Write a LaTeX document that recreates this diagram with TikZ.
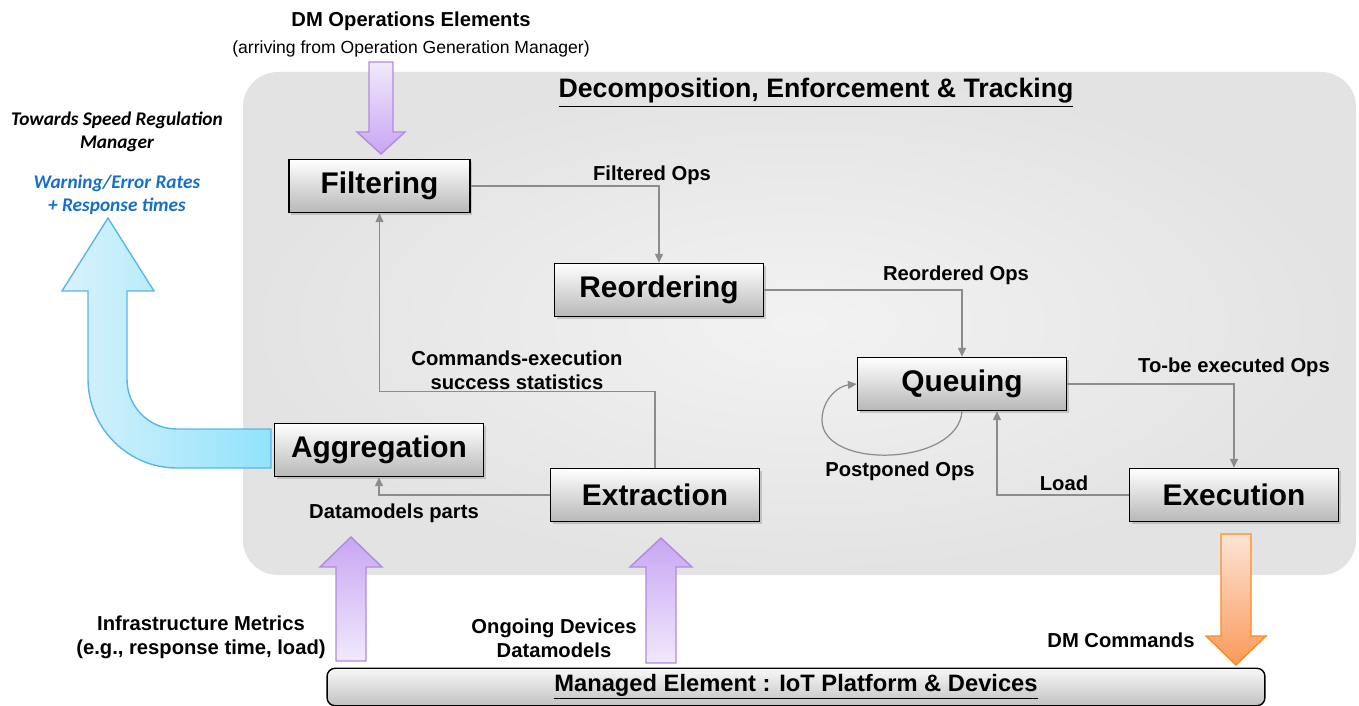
\documentclass[tikz,border=0pt]{standalone}
\usepackage{fontspec}
\setmainfont{Liberation Sans}
\newfontfamily\calibri{Carlito}
\usepackage{xcolor}
\usetikzlibrary{arrows.meta, calc, shadows}
\definecolor{linegray}{HTML}{8C8C8C}
\definecolor{infoblue}{HTML}{1470C8}
\definecolor{lilacdark}{HTML}{C8A6F4}
\definecolor{lilaclight}{HTML}{F1E9FC}
\definecolor{lilacedge}{HTML}{AF8BE0}
\definecolor{orangedark}{HTML}{FB995A}
\definecolor{orangelight}{HTML}{FDE4D6}
\definecolor{orangeedge}{HTML}{FF8A1E}
\definecolor{skylight}{HTML}{D8F2FB}
\definecolor{skydark}{HTML}{92E3FB}
\definecolor{skyedge}{HTML}{5AB6E6}

\begin{document}
\begin{tikzpicture}[x=0.02cm, y=-0.02cm]
    \tikzstyle{block} = [rectangle, draw=black, line width=0.9pt, minimum width=4.18cm, minimum height=1.06cm, top color=white, bottom color=black!28, drop shadow={shadow xshift=1.2pt, shadow yshift=-1.2pt, opacity=0.35}, font=\fontsize{17}{20}\selectfont\bfseries]
    \tikzstyle{arrow} = [draw=linegray, line width=0.7pt, -{Triangle[length=5pt, width=4.5pt]}]
    \tikzstyle{lbl} = [font=\fontsize{11.5}{13.5}\selectfont\bfseries, inner sep=0pt, align=center]
    \tikzstyle{downarrow} = [draw=lilacedge, line width=0.8pt, top color=lilaclight, bottom color=lilacdark]
    \tikzstyle{uparrow} = [draw=lilacedge, line width=0.8pt, top color=lilacdark, bottom color=lilaclight]
    \tikzstyle{orangearrow} = [draw=orangeedge, line width=0.8pt, top color=orangelight, bottom color=orangedark]
    \tikzstyle{bluearrow} = [draw=skyedge, line width=0.8pt, left color=skylight, right color=skydark]

    \useasboundingbox (0,0) rectangle (1359,706);

    % background panel
    \shade[inner color=black!5, outer color=black!11, rounded corners=0.7cm] (243,72) rectangle (1356,575);
    \node[font=\fontsize{15.2}{18}\selectfont\bfseries, anchor=base] (title) at (816,98) {\underline{Decomposition, Enforcement \& Tracking}};

    % blocks
    \node[block, minimum width=3.62cm] (filt) at (379.5,186) {Filtering};
    \node[block] (reord) at (659,290) {Reordering};
    \node[block] (queue) at (962,384) {Queuing};
    \node[block] (exec) at (1234,495) {Execution};
    \node[block] (agg) at (379,450) {Aggregation};
    \node[block] (extr) at (655,495) {Extraction};

    % connectors
    \draw[arrow] (filt.east) -| (reord.north);
    \draw[arrow] (reord.east) -| (queue.north);
    \draw[arrow] (queue.east) -| (exec.north);
    \draw[arrow] (exec.west) -| ($(queue.south)+(35,0)$);
    \draw[arrow] (extr.north) -- ++(0,-76) -| (filt.south);
    \draw[arrow] (extr.west) -| (agg.south);
    \draw[arrow] (queue.south) .. controls +(-4,55) and +(0,50) .. (822,420) .. controls +(0,-20) and +(-19,2) .. (queue.west);

    % connector labels
    \node[lbl, anchor=base] (lfilt) at (652,180) {Filtered Ops};
    \node[lbl, anchor=base] (lreord) at (956,280) {Reordered Ops};
    \node[lbl, anchor=base] (lexec) at (1234,372) {To-be executed Ops};
    \node[lbl, anchor=base] (lpost) at (900,476) {Postponed Ops};
    \node[lbl, anchor=base] (lload) at (1064,490) {Load};
    \node[lbl] (lstats) at (517,370) {Commands-execution\\success statistics};
    \node[lbl, anchor=base] (lparts) at (394,518) {Datamodels parts};

    % big arrows
    \draw[downarrow] (369,62) -- (393,62) -- (393,132) -- (405,132) -- (381,154) -- (357,132) -- (369,132) -- cycle;
    \draw[uparrow] (336,661) -- (366,661) -- (366,567) -- (382,567) -- (351,537) -- (320,567) -- (336,567) -- cycle;
    \draw[uparrow] (646,663) -- (676,663) -- (676,567) -- (692,567) -- (661,538) -- (630,567) -- (646,567) -- cycle;
    \draw[orangearrow] (1221,534) -- (1251,534) -- (1251,636) -- (1266,636) -- (1236,665) -- (1206,636) -- (1221,636) -- cycle;
    \draw[bluearrow] (271,429) -- (177,429) .. controls (149,429) and (127,407) .. (127,379) -- (127,291) -- (154,291) -- (108,218) -- (62,291) -- (88,291) -- (88,379) .. controls (88,428) and (128,468) .. (177,468) -- (271,468) -- cycle;

    % outside texts
    \node[lbl, anchor=base] (dmops) at (411,27) {DM Operations Elements};
    \node[font=\fontsize{10}{12}\selectfont, anchor=base, inner sep=0pt] (arriving) at (411,54) {(arriving from Operation Generation Manager)};
    \node[font=\fontsize{11}{13}\selectfont\calibri\bfseries\itshape, align=center, inner sep=0pt] (towards) at (117,132) {Towards Speed Regulation\\Manager};
    \node[font=\fontsize{11}{13}\selectfont\calibri\bfseries\itshape, text=infoblue, align=center, inner sep=0pt] (rates) at (117,195) {Warning/Error Rates\\+ Response times};
    \node[lbl] (infra) at (201,637) {Infrastructure Metrics\\(e.g., response time, load)};
    \node[lbl] (ongoing) at (554,638) {Ongoing Devices\\Datamodels};
    \node[lbl, anchor=base] (dmcmd) at (1121,647) {DM Commands};

    % managed element bar
    \node[draw, line width=0.8pt, rounded corners=0.16cm, minimum width=18.76cm, minimum height=0.72cm, top color=black!3, bottom color=black!24, font=\fontsize{13.5}{16}\selectfont\bfseries] (managed) at (796,687) {\underline{Managed Element : IoT Platform \& Devices}};
\end{tikzpicture}
\end{document}
